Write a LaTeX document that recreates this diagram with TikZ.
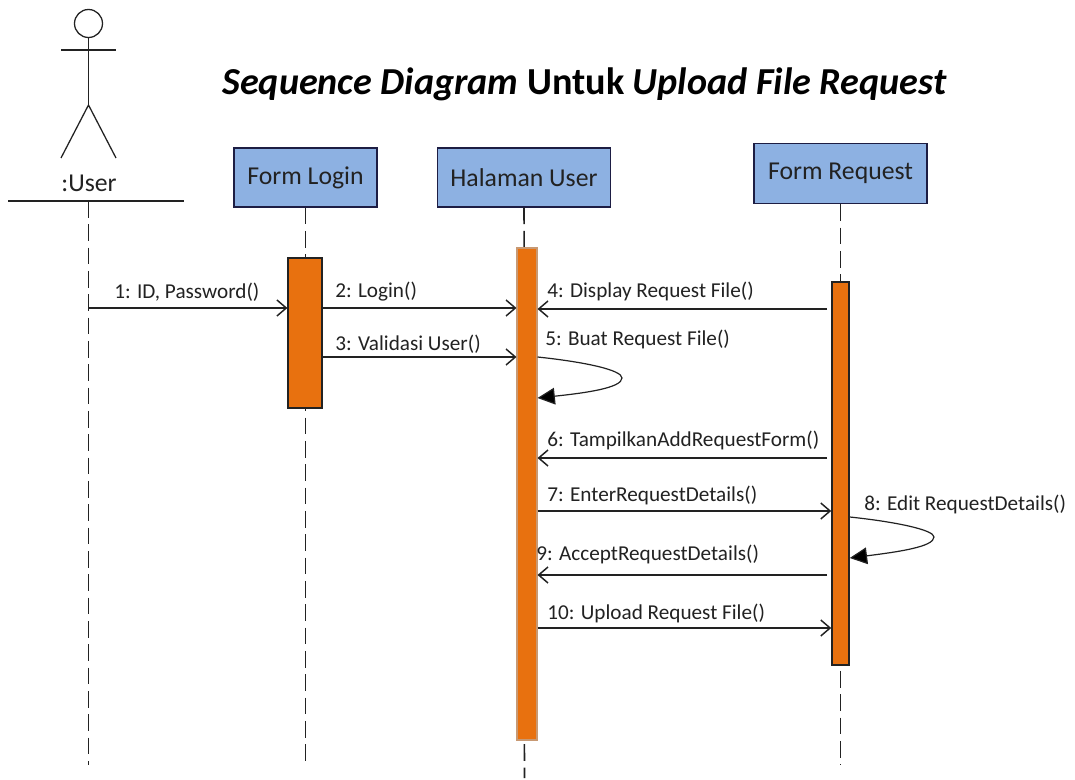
\documentclass[tikz,border=0pt]{standalone}
\usepackage{fontspec}
\setmainfont{Carlito}
\usetikzlibrary{arrows.meta,calc}
\definecolor{boxblue}{HTML}{8DB1E2}
\definecolor{barorange}{HTML}{E8710F}
\definecolor{ink}{HTML}{222222}
\tikzset{
  lifebox/.style={draw=ink!85!blue,line width=1.1pt,fill=boxblue,minimum height=44pt,inner sep=0pt,text=ink,font=\fontsize{19.3}{22}\selectfont},
  actbar/.style={draw=ink,line width=1.4pt,fill=barorange,inner sep=0pt},
  lifeline/.style={draw=ink,line width=1.15pt,dash pattern=on 12.5pt off 5pt},
  msg/.style={draw=ink,line width=1.1pt,-{Straight Barb[length=7pt,width=12pt,line width=1.1pt]}},
  selfmsg/.style={draw=ink,line width=0.9pt,-{Triangle[length=13pt,width=12.5pt,fill=black]}},
  msglabel/.style={anchor=west,inner sep=0pt,text=ink,font=\fontsize{15.9}{18}\selectfont},
  stick/.style={draw=ink,line width=0.95pt}
}
\begin{document}
\begin{tikzpicture}[x=0.75pt,y=-0.75pt]
\useasboundingbox (0,0) rectangle (1075,780);
\fill[white] (0,0) rectangle (1075,780);
% title
\node[inner sep=0pt,text=black,font=\fontsize{28.6}{32}\selectfont\bfseries] (title) at (584.5,84) {\textit{Sequence Diagram} Untuk \textit{Upload File Request}};
% actor
\node[draw=ink,line width=0.95pt,circle,minimum size=21pt,inner sep=0pt] (head) at (88.5,23.5) {};
\coordinate (hip) at (88.5,105);
\coordinate (armL) at (61,50);
\coordinate (armR) at (116,50);
\coordinate (footL) at (61,158);
\coordinate (footR) at (116,158);
\coordinate (ulineL) at (8,201);
\coordinate (ulineR) at (184,201);
\coordinate (utop) at (88.5,201);
\coordinate (uend) at (88.5,765);
\draw[stick] (head.south) -- (hip);
\draw[stick] (armL) -- (armR);
\draw[stick] (footL) -- (hip) -- (footR);
\node[inner sep=0pt,text=ink,font=\fontsize{19.3}{22}\selectfont] (ulabel) at (89,183) {:User};
\draw[draw=ink,line width=1.2pt] (ulineL) -- (ulineR);
% lifeline boxes
\node[lifebox,minimum width=107pt] (login) at (305.5,177.5) {Form Login};
\node[lifebox,minimum width=130pt] (halaman) at (524,177.5) {Halaman User};
\node[lifebox,minimum width=130pt,minimum height=45pt] (request) at (840.5,173.5) {Form Request};
% lifelines
\coordinate (lend) at (305.5,765);
\coordinate (hend) at (524.5,778);
\coordinate (rend) at (840.5,765);
\draw[lifeline] (utop) -- (uend);
\draw[lifeline] (login.south) -- (lend);
\draw[lifeline] (halaman.south) -- (hend);
\draw[lifeline] (request.south) -- (rend);
% activation bars
\node[actbar,minimum width=25pt,minimum height=112pt] (bar1) at (305,333) {};
\node[draw=ink!35!barorange!60!white,line width=0.8pt,fill=barorange,inner sep=0pt,minimum width=15pt,minimum height=369pt] (bar2) at (527,494) {};
\node[actbar,minimum width=12.5pt,minimum height=287pt] (bar3) at (840.5,473.5) {};
% messages
\draw[msg] (utop |- 0,308) -- (bar1.west |- 0,308);
\draw[msg] (bar1.east |- 0,308) -- (bar2.west |- 0,308);
\draw[msg] (bar1.east |- 0,357) -- (bar2.west |- 0,357);
\draw[msg] ($(bar3.west |- 0,309)+(-4,0)$) -- (bar2.east |- 0,309);
\draw[msg] ($(bar3.west |- 0,458)+(-4,0)$) -- (bar2.east |- 0,458);
\draw[msg] (bar2.east |- 0,511) -- (bar3.west |- 0,511);
\draw[msg] ($(bar3.west |- 0,575)+(-4,0)$) -- (bar2.east |- 0,575);
\draw[msg] (bar2.east |- 0,628) -- (bar3.west |- 0,628);
\draw[selfmsg] (bar2.east |- 0,357) .. controls (585,362) and (622,370) .. (622,378) .. controls (622,388) and (585,393) .. (bar2.east |- 0,398);
\draw[selfmsg] (bar3.east |- 0,517) .. controls (897,522) and (934,530) .. (934,537) .. controls (934,547) and (897,552) .. (bar3.east |- 0,558);
% labels
\node[msglabel] (m1) at (114,292) {1: ID, Password()};
\node[msglabel] (m2) at (335,291.5) {2: Login()};
\node[msglabel] (m3) at (335,344) {3: Validasi User()};
\node[msglabel] (m4) at (547,291) {4: Display Request File()};
\node[msglabel] (m5) at (545,339) {5: Buat Request File()};
\node[msglabel] (m6) at (547,440) {6: TampilkanAddRequestForm()};
\node[msglabel] (m7) at (547,495) {7: EnterRequestDetails()};
\node[msglabel] (m8) at (864,504) {8: Edit RequestDetails()};
\node[msglabel] (m9) at (536,554) {9: AcceptRequestDetails()};
\node[msglabel] (m10) at (547,613) {10: Upload Request File()};
\end{tikzpicture}
\end{document}
